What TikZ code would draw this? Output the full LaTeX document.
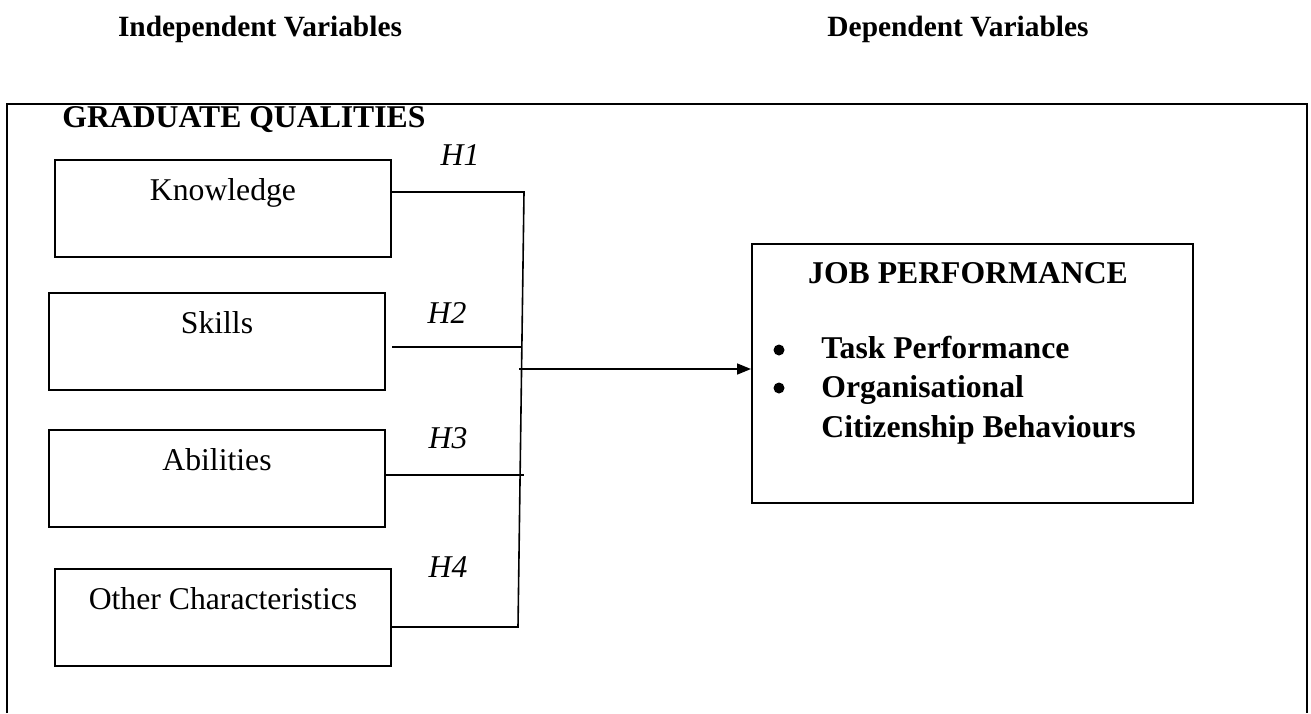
\documentclass[tikz,border=0pt]{standalone}
\usepackage{fontspec}
\setmainfont{Liberation Serif}
\usetikzlibrary{arrows.meta}
\begin{document}
\begin{tikzpicture}[x=0.5pt,y=-0.5pt,
  heading/.style={inner sep=0pt, anchor=base, font=\fontsize{14.7}{18}\selectfont\bfseries},
  bold/.style={inner sep=0pt, font=\fontsize{15.85}{19}\selectfont\bfseries},
  hlabel/.style={inner sep=0pt, anchor=base, font=\fontsize{15.85}{19}\selectfont\itshape},
  varbox/.style={draw, line width=1pt, inner sep=0pt, anchor=north west,
    minimum width=168pt, text height=20pt, text depth=28.5pt,
    font=\fontsize{15.85}{19}\selectfont},
  outcome/.style={draw, line width=1pt, inner sep=0pt, anchor=north west,
    minimum width=220.5pt, minimum height=129.5pt},
  dot/.style={circle, fill, inner sep=0pt, minimum size=5.5pt},
  link/.style={line width=0.8pt}
]
\useasboundingbox (0,0) rectangle (1311,713);

% column headings
\node[heading] (indep) at (260,36) {Independent Variables};
\node[heading] (dep) at (958,36) {Dependent Variables};

% outer frame, open at the bottom
\draw[line width=0.8pt] (7,713) -- (7,104) -- (1307,104) -- (1307,713);

\node[bold, anchor=base west] (gq) at (62,127) {GRADUATE QUALITIES};

% independent variables
\node[varbox] (know) at (54,159) {Knowledge};
\node[varbox] (skills) at (48,292) {Skills};
\node[varbox] (abil) at (48,429) {Abilities};
\node[varbox] (other) at (54,568) {Other Characteristics};

% dependent variable
\node[outcome] (job) at (751,243) {};
\node[bold, anchor=base] (jobtitle) at (968,283) {JOB PERFORMANCE};
\node[dot] (bul1) at (779,350) {};
\node[dot] (bul2) at (779,388) {};
\node[bold, anchor=base west] (task) at (821,358) {Task Performance};
\node[bold, anchor=base west] (org) at (821,397) {Organisational};
\node[bold, anchor=base west] (ocb) at (821,437) {Citizenship Behaviours};

% hypothesis labels
\node[hlabel] (h1) at (460,165) {H1};
\node[hlabel] (h2) at (447,323) {H2};
\node[hlabel] (h3) at (448,448) {H3};
\node[hlabel] (h4) at (448,577) {H4};

% connectors
\coordinate (bustop) at (524,192);
\coordinate (busbot) at (518,627);
\coordinate (j2) at (522,347);
\coordinate (j3) at (524,475);
\coordinate (out) at (519,369);
\draw[link] (know.east |- bustop) -- (bustop) -- (busbot) -- (other.east |- busbot);
\draw[link] ([xshift=3pt]skills.east |- j2) -- (j2);
\draw[link] (abil.east |- j3) -- (j3);
\draw[link, -{Triangle[length=7pt,width=5.5pt]}] (out) -- (job.west |- out);
\end{tikzpicture}
\end{document}
